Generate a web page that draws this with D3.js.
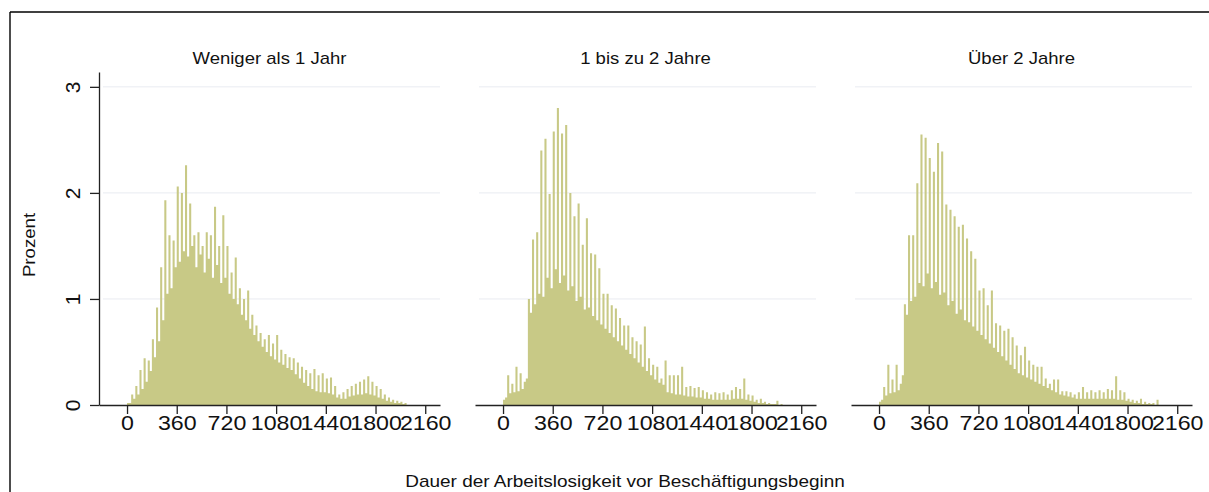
<!DOCTYPE html>
<html><head><meta charset="utf-8">
<script src="https://cdn.jsdelivr.net/npm/d3@7"></script>
<style>body{margin:0;background:#fff}svg{display:block}</style>
</head><body>
<svg id="chart" width="1209" height="492"></svg>
<script>
// ---- data (percent per 15-day bin, starting at day 0) ----
const panelTitles = ["Weniger als 1 Jahr", "1 bis zu 2 Jahre", "Über 2 Jahre"];
const xTickValues = [0, 360, 720, 1080, 1440, 1800, 2160];
const yTickValues = [0, 1, 2, 3];
const binWidth = 15;
const xAxisTitle = "Dauer der Arbeitslosigkeit vor Beschäftigungsbeginn";
const yAxisTitle = "Prozent";

const wenigerAls1Jahr = [
  0.02,0.02, 0.10,0.06, 0.18,0.10, 0.33,0.15, 0.44,0.22, 0.42,0.32, 0.62,0.45, 0.92,0.60,
  1.30,0.80, 1.93,1.05, 1.60,1.10, 1.55,1.30, 2.06,1.35, 2.00,1.45, 2.26,1.40, 1.90,1.50,
  1.60,1.30, 1.63,1.42, 1.50,1.25, 1.63,1.38, 1.60,1.20, 1.87,1.32, 1.50,1.15, 1.79,1.20,
  1.50,1.05, 1.25,1.00, 1.39,0.95, 1.10,0.85, 1.00,0.80, 1.08,0.72, 0.85,0.66, 0.75,0.60,
  0.68,0.55, 0.62,0.50, 0.66,0.46, 0.58,0.43, 0.66,0.40, 0.52,0.38, 0.48,0.35, 0.45,0.33,
  0.44,0.29, 0.40,0.25, 0.36,0.21, 0.33,0.18, 0.30,0.15, 0.34,0.13, 0.28,0.12, 0.30,0.12,
  0.25,0.11, 0.26,0.10, 0.18,0.07, 0.10,0.06, 0.12,0.06, 0.15,0.08, 0.18,0.09, 0.20,0.10,
  0.22,0.10, 0.24,0.11, 0.27,0.10, 0.22,0.09, 0.18,0.07, 0.15,0.06, 0.10,0.04, 0.07,0.03,
  0.05,0.02, 0.04,0.02, 0.03,0.01, 0.02,0.00
];
const einBisZweiJahre = [
  0.05,0.07, 0.28,0.11, 0.20,0.12, 0.36,0.13, 0.30,0.15, 0.22,0.25, 1.00,0.87, 1.56,0.95,
  1.63,1.05, 2.40,1.02, 2.51,1.20, 1.99,1.10, 2.58,1.28, 2.80,1.15, 2.56,1.22, 2.64,1.08,
  2.00,1.12, 1.78,0.98, 1.90,1.02, 1.51,0.90, 1.76,0.92, 1.43,0.84, 1.42,0.80, 1.29,0.76,
  1.05,0.72, 1.05,0.68, 0.94,0.64, 0.91,0.60, 0.82,0.56, 0.75,0.52, 0.75,0.48, 0.64,0.44,
  0.60,0.40, 0.57,0.36, 0.74,0.32, 0.44,0.28, 0.38,0.24, 0.36,0.21, 0.25,0.19, 0.42,0.12,
  0.28,0.11, 0.28,0.10, 0.28,0.10, 0.36,0.09, 0.17,0.08, 0.18,0.08, 0.16,0.07, 0.17,0.07,
  0.14,0.06, 0.12,0.06, 0.10,0.05, 0.12,0.05, 0.11,0.05, 0.12,0.05, 0.10,0.05, 0.14,0.06,
  0.17,0.06, 0.15,0.06, 0.25,0.05, 0.10,0.04, 0.09,0.03, 0.05,0.02, 0.06,0.02, 0.03,0.01,
  0.02,0.01, 0.01,0.01, 0.04,0.00, 0.01,0.00
];
const ueberZweiJahre = [
  0.03,0.05, 0.17,0.09, 0.38,0.11, 0.24,0.12, 0.38,0.14, 0.20,0.28, 0.95,0.85, 1.60,0.98,
  1.60,1.02, 2.09,1.15, 2.55,1.12, 2.52,1.24, 2.33,1.10, 2.20,1.16, 2.47,1.04, 2.39,1.06,
  1.89,0.94, 1.84,0.98, 1.78,0.86, 1.68,0.90, 1.70,0.80, 1.57,0.78, 1.45,0.74, 1.38,0.70,
  1.08,0.66, 1.10,0.62, 0.94,0.58, 1.08,0.54, 0.77,0.50, 0.75,0.46, 0.70,0.42, 0.72,0.38,
  0.64,0.34, 0.56,0.30, 0.47,0.28, 0.55,0.26, 0.42,0.24, 0.38,0.22, 0.36,0.20, 0.36,0.18,
  0.25,0.16, 0.20,0.14, 0.24,0.12, 0.24,0.10, 0.13,0.09, 0.13,0.08, 0.12,0.07, 0.10,0.06,
  0.12,0.06, 0.17,0.06, 0.12,0.06, 0.14,0.06, 0.12,0.06, 0.14,0.06, 0.12,0.06, 0.15,0.06,
  0.14,0.06, 0.27,0.05, 0.14,0.05, 0.12,0.04, 0.06,0.03, 0.05,0.02, 0.04,0.02, 0.06,0.01,
  0.03,0.01, 0.02,0.01, 0.02,0.00, 0.05,0.00
];
const panelData = [wenigerAls1Jahr, einBisZweiJahre, ueberZweiJahre];

// ---- drawing ----
const svg = d3.select("#chart");
const FONT = "'Liberation Sans', Arial, Helvetica, sans-serif";
const SX = 1.13;                       // wide lettering of the original
const TICK_SX = 1.16;
const barColor = "#c8c986";
const inkColor = "#111";
const fmt = d3.format("d");

// outer frame (top + left edge visible)
svg.append("line").attr("x1", 10).attr("x2", 1209).attr("y1", 12).attr("y2", 12)
  .attr("stroke", "#000").attr("stroke-width", 1.4);
svg.append("line").attr("x1", 10).attr("x2", 10).attr("y1", 12).attr("y2", 492)
  .attr("stroke", "#000").attr("stroke-width", 1.4);

const y = d3.scaleLinear().domain([0, 3.14]).range([405, 72]);
const panelStep = 376;

panelData.forEach((vals, p) => {
  const x = d3.scaleLinear().domain([-203, 2267]).range([99 + panelStep * p, 440 + panelStep * p]);
  const g = svg.append("g");

  // faint grid lines
  g.selectAll("line.grid").data(yTickValues.filter(v => v > 0)).join("line")
    .attr("class", "grid")
    .attr("x1", x.range()[0] + 4).attr("x2", x.range()[1])
    .attr("y1", d => y(d)).attr("y2", d => y(d))
    .attr("stroke", "#e9ebf1").attr("stroke-width", 1);

  // histogram
  const pts = vals.map((v, i) => ({ x: i * binWidth, v }));
  pts.push({ x: vals.length * binWidth, v: 0 });
  const area = d3.area().curve(d3.curveStepAfter)
    .x(d => x(d.x)).y0(y(0)).y1(d => y(d.v));
  g.append("path").datum(pts).attr("d", area).attr("fill", barColor);

  // x axis
  const xa = g.append("g").attr("transform", `translate(0,${y(0)})`)
    .call(d3.axisBottom(x).tickValues(xTickValues).tickFormat(fmt).tickSize(9).tickSizeOuter(0));
  xa.select(".domain").attr("stroke", "#222").attr("stroke-width", 1.3);
  xa.selectAll(".tick line").attr("stroke", "#222").attr("stroke-width", 1.3);
  xa.selectAll(".tick text").attr("font-family", FONT).attr("font-size", 20)
    .attr("fill", inkColor).attr("y", 11).attr("transform", `scale(${TICK_SX},1)`);

  // y axis only on first panel
  if (p === 0) {
    const ya = g.append("g").attr("transform", `translate(${x.range()[0]},0)`)
      .call(d3.axisLeft(y).tickValues(yTickValues).tickFormat(fmt).tickSize(9).tickSizeOuter(0));
    ya.select(".domain").attr("stroke", "#222").attr("stroke-width", 1.3);
    ya.selectAll(".tick line").attr("stroke", "#222").attr("stroke-width", 1.3);
    ya.selectAll(".tick text").attr("font-family", FONT).attr("font-size", 21)
      .attr("fill", inkColor).attr("x", 0).attr("y", 0).attr("dy", null)
      .attr("text-anchor", "middle")
      .attr("transform", `translate(-19,0) rotate(-90)`);
  }

  // panel title
  const cx = (x.range()[0] + x.range()[1]) / 2;
  svg.append("text").attr("transform", `translate(${cx},64) scale(${SX},1)`)
    .attr("text-anchor", "middle").attr("font-family", FONT).attr("font-size", 16.4)
    .attr("fill", inkColor).text(panelTitles[p]);
});

// axis titles
svg.append("text").attr("transform", `translate(625,487) scale(${SX},1)`)
  .attr("text-anchor", "middle").attr("font-family", FONT).attr("font-size", 16.8)
  .attr("fill", inkColor).text(xAxisTitle);
svg.append("text").attr("transform", `translate(35,245) rotate(-90) scale(${SX},1)`)
  .attr("text-anchor", "middle").attr("font-family", FONT).attr("font-size", 16.5)
  .attr("fill", inkColor).text(yAxisTitle);
</script>
</body></html>
